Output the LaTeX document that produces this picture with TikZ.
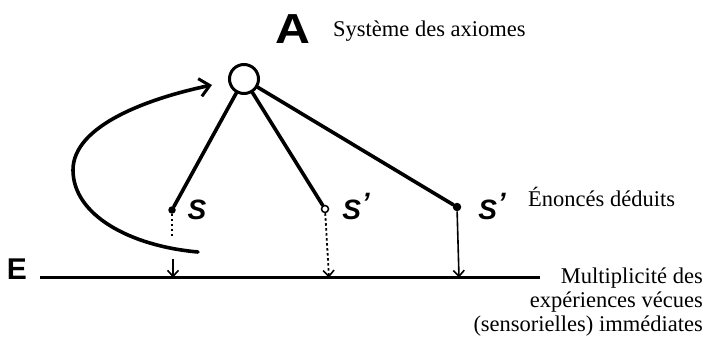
\documentclass[tikz,border=0pt]{standalone}
\usepackage{fontspec}
\setmainfont{Liberation Serif}
\newfontfamily\handfont{Liberation Sans}
\usetikzlibrary{arrows.meta}

\begin{document}
\begin{tikzpicture}[x=1pt,y=-1pt,
  heavy/.style={line width=3.6pt, line cap=round},
  caption/.style={font=\fontsize{22.5}{24}\selectfont, inner sep=0pt},
  hand/.style={font=\handfont\bfseries\itshape\fontsize{28}{28}\selectfont, inner sep=0pt},
  dotpt/.style={circle, fill, minimum size=7.5pt, inner sep=0pt},
  openpt/.style={circle, draw, fill=white, line width=1.5pt, minimum size=7pt, inner sep=0pt},
  barb/.style={-{Straight Barb[length=6pt,width=11pt,line width=1.6pt]}},
  dotline/.style={line width=1.8pt, dash pattern=on 2.5pt off 2.5pt},
]
\useasboundingbox (0,0) rectangle (708,345);

% system of axioms
\node[draw, circle, line width=3pt, minimum size=29pt, inner sep=0pt] (A) at (244,79) {};
\node[font=\handfont\bfseries\fontsize{42}{42}\selectfont, inner sep=0pt, xscale=1.15] (Alab) at (293,29) {A};
\node[caption, anchor=base west] (Acap) at (333,37) {Système des axiomes};

% deduced statements
\node[dotpt] (s1) at (172,210) {};
\node[openpt] (s2) at (325,209) {};
\node[dotpt, minimum size=8.5pt] (s3) at (457,207) {};
\node[hand] (l1) at (197,210) {S};
\node[hand] (l2) at (356,207) {S\kern1pt\raisebox{7pt}{’}};
\node[hand] (l3) at (492,207) {S\kern1pt\raisebox{7pt}{’}};
\node[caption, anchor=base west] (scap) at (528,206) {Énoncés déduits};

\draw[heavy] (A) -- (s1);
\draw[heavy] (A) -- (s2);
\draw[heavy] (A) -- (s3);

% line of immediate experiences
\coordinate (E0) at (40,277.5);
\coordinate (E1) at (540,277.5);
\draw[line width=3pt] (E0) -- (E1);
\node[hand, font=\handfont\bfseries\fontsize{30}{30}\selectfont] (Elab) at (17,269) {E};
\node[caption, anchor=base east] (m1) at (703,283) {Multiplicité des};
\node[caption, anchor=base east] (m2) at (703,307) {expériences vécues};
\node[caption, anchor=base east] (m3) at (703,331) {(sensorielles) immédiates};

% links from statements down to experience
\coordinate (d1) at (172,238);
\coordinate (a1) at (173,259);
\draw[dotline] (s1) -- (d1);
\draw[line width=1.8pt, barb] (a1) -- (a1 |- E0);
\coordinate (t2) at (329,277.5);
\draw[dotline, barb] (s2) -- (t2);
\coordinate (t3) at (459,277.5);
\draw[line width=1.6pt, barb] (s3) -- (t3);

% intuitive return to the axioms
\coordinate (c0) at (198,252);
\coordinate (tip) at (212,85);
\draw[heavy, -{Straight Barb[length=10pt,width=18pt,line width=3pt]}]
  (c0) .. controls (130,246) and (73,215) .. (73,170)
       .. controls (73,125) and (150,98) .. (tip);
\end{tikzpicture}
\end{document}
